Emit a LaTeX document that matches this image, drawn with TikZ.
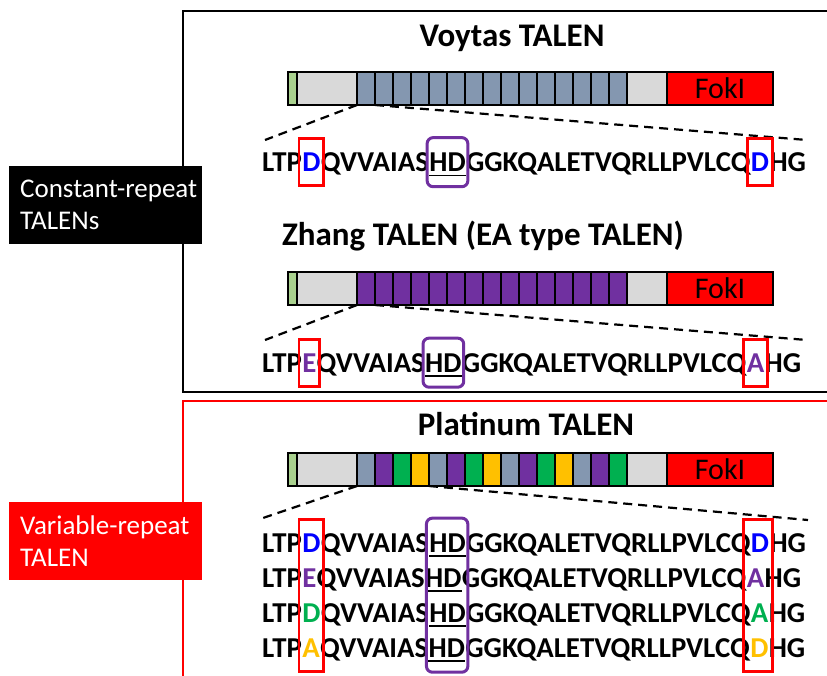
\documentclass[tikz,border=0pt]{standalone}
\usepackage{fontspec}
\setmainfont{Carlito}
\usetikzlibrary{fit}

\definecolor{repblue}{HTML}{8497B0}
\definecolor{reppurple}{HTML}{7030A0}
\definecolor{repgreen}{HTML}{00B050}
\definecolor{repyellow}{HTML}{FFC000}
\definecolor{ntgreen}{HTML}{A9D18E}
\definecolor{capgray}{HTML}{D9D9D9}
\definecolor{fokred}{HTML}{FF0000}
\definecolor{resblue}{HTML}{0000FF}

\newcommand{\seqfont}{\fontsize{28.8}{32}\selectfont\bfseries}

\tikzset{
  part/.style={draw=black, line width=1.3pt, inner sep=0pt, outer sep=0pt, minimum height=33pt, anchor=north west},
  rep/.style={part, line width=2pt, minimum width=18pt},
  seq/.style={anchor=base west, inner sep=0pt, font=\seqfont},
  title/.style={font=\fontsize{33}{36}\selectfont\bfseries},
  zoomline/.style={line width=2.2pt, dash pattern=on 9pt off 6pt},
  resbox/.style={draw=red, line width=2.8pt, inner xsep=3pt, inner ysep=14pt},
  hdbox/.style={draw=reppurple, line width=3pt, rounded corners=6pt, inner xsep=2pt, inner ysep=15pt},
  tag/.style={anchor=north west, text=white, align=left, text width=171pt, inner xsep=11pt, minimum height=78pt, font=\fontsize{27}{32}\selectfont},
}

% one TALEN bar: name, top edge, colours of the repeats
\newcommand{\talenbar}[3]{%
  \node[part, fill=ntgreen, minimum width=9pt] (#1nt) at (288,#2) {};
  \node[part, fill=capgray, minimum width=60pt] (#1n) at (#1nt.north east) {};
  \foreach \c [count=\i from 0] in {#3}
    \node[rep, fill=\c] (#1r\i) at (357+18*\i,#2) {};
  \node[part, fill=capgray, minimum width=40pt] (#1c) at (627,#2) {};
  \node[part, fill=fokred, minimum width=106pt, font=\fontsize{30}{30}\selectfont] (#1fok) at (#1c.north east) {FokI};
}

% one repeat sequence: name, baseline, colour/residue 12, colour/residue 13
\newcommand{\seqrow}[6]{%
  \node[seq] (#1a) at (262,#2) {LTP};
  \node[seq, text=#3] (#1b) at (#1a.base east) {#4};
  \node[seq] (#1c) at (#1b.base east) {QVVAIAS};
  \node[seq] (#1d) at (#1c.base east) {HD};
  \node[seq] (#1e) at (#1d.base east) {GGKQALETVQRLLPVLCQ};
  \node[seq, text=#5] (#1f) at (#1e.base east) {#6};
  \node[seq] (#1g) at (#1f.base east) {HG};
  \draw[line width=1.6pt] ([yshift=-4pt]#1d.base west) -- ([yshift=-4pt]#1d.base east);
}

\begin{document}
\begin{tikzpicture}[x=1pt, y=-1pt]
\useasboundingbox (0,0) rectangle (827,675);
\clip (0,0) rectangle (827,675);

% frames
\draw[line width=2.4pt] (183,11) rectangle (840,392);
\draw[red, line width=2.8pt] (183,401) rectangle (840,690);

% Voytas
\node[title] (vtitle) at (512,38) {Voytas TALEN};
\talenbar{vt}{72}{repblue,repblue,repblue,repblue,repblue,repblue,repblue,repblue,repblue,repblue,repblue,repblue,repblue,repblue,repblue}
\seqrow{vs}{171.5}{resblue}{D}{resblue}{D}
\coordinate (vl) at (265,140);
\coordinate (vr) at (807,140);
\draw[zoomline] (vtr0.south west) -- (vl);
\draw[zoomline] (vtr1.south west) -- (vr);
\node[resbox, fit=(vsb)] (vbox12) {};
\node[resbox, fit=(vsf)] (vbox13) {};
\node[hdbox, fit=(vsd)] (vboxhd) {};

% Zhang
\node[title] (ztitle) at (483,236) {Zhang TALEN (EA type TALEN)};
\talenbar{zt}{272}{reppurple,reppurple,reppurple,reppurple,reppurple,reppurple,reppurple,reppurple,reppurple,reppurple,reppurple,reppurple,reppurple,reppurple,reppurple}
\seqrow{zs}{372}{reppurple}{E}{reppurple}{A}
\coordinate (zl) at (265,340);
\coordinate (zr) at (807,340);
\draw[zoomline] (ztr0.south west) -- (zl);
\draw[zoomline] (ztr1.south west) -- (zr);
\node[resbox, fit=(zsb)] (zbox12) {};
\node[resbox, fit=(zsf)] (zbox13) {};
\node[hdbox, fit=(zsd)] (zboxhd) {};

% Platinum
\node[title] (ptitle) at (526,424) {Platinum TALEN};
\talenbar{pt}{453}{repblue,reppurple,repgreen,repyellow,repblue,reppurple,repgreen,repyellow,repblue,reppurple,repgreen,repyellow,repblue,reppurple,repgreen}
\seqrow{ps1}{552}{resblue}{D}{resblue}{D}
\seqrow{ps2}{587}{reppurple}{E}{reppurple}{A}
\seqrow{ps3}{622}{repgreen}{D}{repgreen}{A}
\seqrow{ps4}{657}{repyellow}{A}{repyellow}{D}
\coordinate (pl) at (263,518);
\coordinate (pr) at (808,520);
\draw[zoomline] (ptr0.south west) -- (pl);
\draw[zoomline] (ptr4.south west) -- (pr);
\node[resbox, fit=(ps1b)(ps2b)(ps3b)(ps4b)] (pbox12) {};
\node[resbox, fit=(ps1f)(ps2f)(ps3f)(ps4f)] (pbox13) {};
\node[hdbox, fit=(ps1d)(ps4d)] (pboxhd) {};

% labels
\node[tag, fill=black] (crtag) at (9,166) {\mbox{Constant-repeat}\\TALENs};
\node[tag, fill=red] (vrtag) at (9,502) {\mbox{Variable-repeat}\\TALEN};
\end{tikzpicture}
\end{document}
